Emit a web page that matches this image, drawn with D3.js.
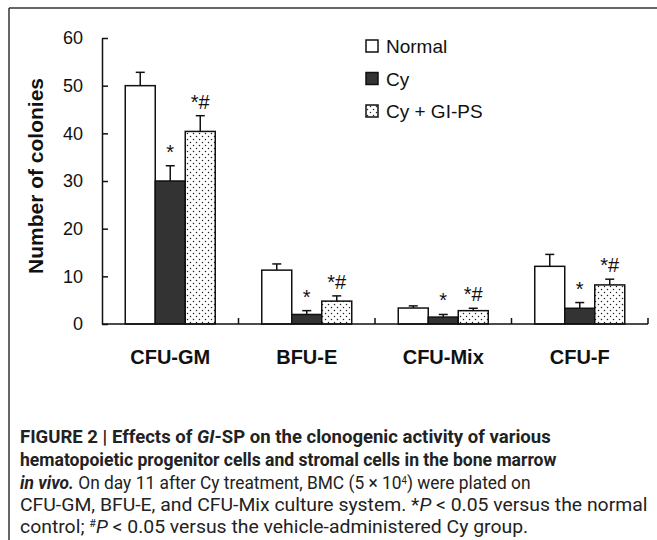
<!DOCTYPE html>
<html><head><meta charset="utf-8">
<script src="https://cdn.jsdelivr.net/npm/d3@7/dist/d3.min.js"></script>
<style>
html,body{margin:0;padding:0;background:#fff;}
svg{display:block;}
</style></head>
<body>
<svg id="chart" width="657" height="540"></svg>
<script>
const categories = ["CFU-GM", "BFU-E", "CFU-Mix", "CFU-F"];
const series = ["Normal", "Cy", "Cy + GI-PS"];
const normalValues = [50, 11.3, 3.35, 12.1];
const normalErrors = [2.8, 1.3, 0.45, 2.5];
const cyValues = [30, 2.0, 1.45, 3.3];
const cyErrors = [3.2, 0.8, 0.55, 1.2];
const gipsValues = [40.4, 4.8, 2.8, 8.2];
const gipsErrors = [3.3, 1.1, 0.5, 1.2];
const cyMarks = ["*", "*", "*", "*"];
const gipsMarks = ["*#", "*#", "*#", "*#"];
const yTicks = [0, 10, 20, 30, 40, 50, 60];

const svg = d3.select("#chart");
const defs = svg.append("defs");
const pat = defs.append("pattern").attr("id", "dots").attr("patternUnits", "userSpaceOnUse")
  .attr("width", 6).attr("height", 6);
pat.append("rect").attr("width", 6).attr("height", 6).attr("fill", "#fff");
pat.append("circle").attr("cx", 1.5).attr("cy", 1.5).attr("r", 0.75).attr("fill", "#222");
pat.append("circle").attr("cx", 4.5).attr("cy", 4.5).attr("r", 0.75).attr("fill", "#222");

// frame
svg.append("line").attr("x1", 9).attr("x2", 657).attr("y1", 8).attr("y2", 8).attr("stroke", "#333").attr("stroke-width", 1.5);
svg.append("line").attr("x1", 9).attr("x2", 9).attr("y1", 8).attr("y2", 540).attr("stroke", "#333").attr("stroke-width", 1.5);

const x = d3.scaleBand().domain(categories).range([102, 648]).padding(0);
const xs = d3.scaleBand().domain(series).range([0, x.bandwidth()]).paddingInner(0).paddingOuter(0.775);
const y = d3.scaleLinear().domain([0, 60]).range([324, 38]);

const data = [];
categories.forEach((c, i) => {
  data.push({c, s: series[0], v: normalValues[i], e: normalErrors[i], m: "", fill: "#fff"});
  data.push({c, s: series[1], v: cyValues[i], e: cyErrors[i], m: cyMarks[i], fill: "#333"});
  data.push({c, s: series[2], v: gipsValues[i], e: gipsErrors[i], m: gipsMarks[i], fill: "url(#dots)"});
});

const g = svg.append("g");
const eb = g.selectAll(".err").data(data).join("g");
eb.append("line")
  .attr("x1", d => x(d.c) + xs(d.s) + xs.bandwidth()/2)
  .attr("x2", d => x(d.c) + xs(d.s) + xs.bandwidth()/2)
  .attr("y1", d => y(d.v)).attr("y2", d => y(d.v + d.e))
  .attr("stroke", "#111").attr("stroke-width", 1.5);
eb.append("line")
  .attr("x1", d => x(d.c) + xs(d.s) + xs.bandwidth()/2 - 4.5)
  .attr("x2", d => x(d.c) + xs(d.s) + xs.bandwidth()/2 + 4.5)
  .attr("y1", d => y(d.v + d.e)).attr("y2", d => y(d.v + d.e))
  .attr("stroke", "#111").attr("stroke-width", 1.5);

g.selectAll(".bar").data(data).join("rect")
  .attr("x", d => x(d.c) + xs(d.s))
  .attr("width", xs.bandwidth())
  .attr("y", d => y(d.v))
  .attr("height", d => y(0) - y(d.v))
  .attr("fill", d => d.fill)
  .attr("stroke", "#111").attr("stroke-width", 1.5);

g.selectAll(".mark").data(data.filter(d => d.m)).join("text")
  .attr("x", d => x(d.c) + xs(d.s) + xs.bandwidth()/2)
  .attr("y", d => y(d.v + d.e) - 7)
  .attr("text-anchor", "middle")
  .attr("font-family", "Liberation Sans, Arial, sans-serif")
  .attr("font-size", 20)
  .attr("fill", "#111")
  .text(d => d.m);

// y axis
const yAxis = d3.axisLeft(y).tickValues(yTicks).tickSizeInner(-6).tickSizeOuter(0).tickPadding(19);
const ya = svg.append("g").attr("transform", "translate(102,0)").call(yAxis);
ya.select(".domain").attr("stroke", "#111").attr("stroke-width", 1.5);
ya.selectAll(".tick line").attr("stroke", "#111").attr("stroke-width", 1.5);
ya.selectAll(".tick text").attr("font-family", "Liberation Sans, Arial, sans-serif").attr("font-size", 18).attr("fill", "#111");

// x axis
const xa = svg.append("g").attr("transform", "translate(0,324)");
xa.append("line").attr("x1", 102).attr("x2", 648).attr("y1", 0).attr("y2", 0).attr("stroke", "#111").attr("stroke-width", 1.5);
const bounds = categories.map(c => x(c) + x.bandwidth());
xa.selectAll(".sep").data(bounds).join("line")
  .attr("x1", d => d).attr("x2", d => d).attr("y1", 0).attr("y2", -6)
  .attr("stroke", "#111").attr("stroke-width", 1.5);
xa.selectAll(".lab").data(categories).join("text")
  .attr("x", d => x(d) + x.bandwidth()/2).attr("y", 40)
  .attr("text-anchor", "middle")
  .attr("font-family", "Liberation Sans, Arial, sans-serif")
  .attr("font-weight", "bold").attr("font-size", 20).attr("fill", "#111")
  .text(d => d);

// y title
svg.append("text").attr("transform", "translate(43,176) rotate(-90)")
  .attr("text-anchor", "middle")
  .attr("font-family", "Liberation Sans, Arial, sans-serif")
  .attr("font-weight", "bold").attr("font-size", 21).attr("fill", "#111")
  .text("Number of colonies");

// legend
const legFills = ["#fff", "#333", "url(#dots)"];
const leg = svg.append("g");
series.forEach((s, i) => {
  const by = 53 + i * 32.5;
  leg.append("rect").attr("x", 366).attr("y", by - 13).attr("width", 12).attr("height", 12)
    .attr("fill", legFills[i]).attr("stroke", "#111").attr("stroke-width", 1.5);
  leg.append("text").attr("x", 386).attr("y", by)
    .attr("font-family", "Liberation Sans, Arial, sans-serif").attr("font-size", 19).attr("fill", "#111")
    .text(s);
});

// caption
const capFont = "'Liberation Sans Narrow', 'Roboto', 'Liberation Sans', sans-serif";
const capLines = [
  {y: 443, w: 531, parts: [["FIGURE 2 | Effects of ", "bold", "normal"], ["GI", "bold", "italic"], ["-SP on the clonogenic activity of various", "bold", "normal"]]},
  {y: 466, w: 537, parts: [["hematopoietic progenitor cells and stromal cells in the bone marrow", "bold", "normal"]]},
  {y: 489, w: 511, parts: [["in vivo.", "bold", "italic"], [" On day 11 after Cy treatment, BMC (5 × 10", "normal", "normal"], ["4", "normal", "normal", "sup"], [") were plated on", "normal", "normal"]]},
  {y: 511, w: 628, parts: [["CFU-GM, BFU-E, and CFU-Mix culture system. *", "normal", "normal"], ["P", "normal", "italic"], [" < 0.05 versus the normal", "normal", "normal"]]},
  {y: 533, w: 509, parts: [["control; ", "normal", "normal"], ["#", "normal", "normal", "sup"], ["P", "normal", "italic"], [" < 0.05 versus the vehicle-administered Cy group.", "normal", "normal"]]}
];
capLines.forEach(L => {
  const gl = svg.append("g");
  const t = gl.append("text").attr("x", 0).attr("y", 0)
    .attr("font-family", capFont).attr("font-size", 18).attr("fill", "#222");
  L.parts.forEach(p => {
    const ts = t.append("tspan").attr("font-weight", p[1]).attr("font-style", p[2]).text(p[0]);
    if (p[3] === "sup") ts.attr("font-size", 10).attr("baseline-shift", "super");
  });
  const w = t.node().getComputedTextLength();
  gl.attr("transform", `translate(20,${L.y}) scale(${L.w / w},1)`);
});
</script>
</body></html>
